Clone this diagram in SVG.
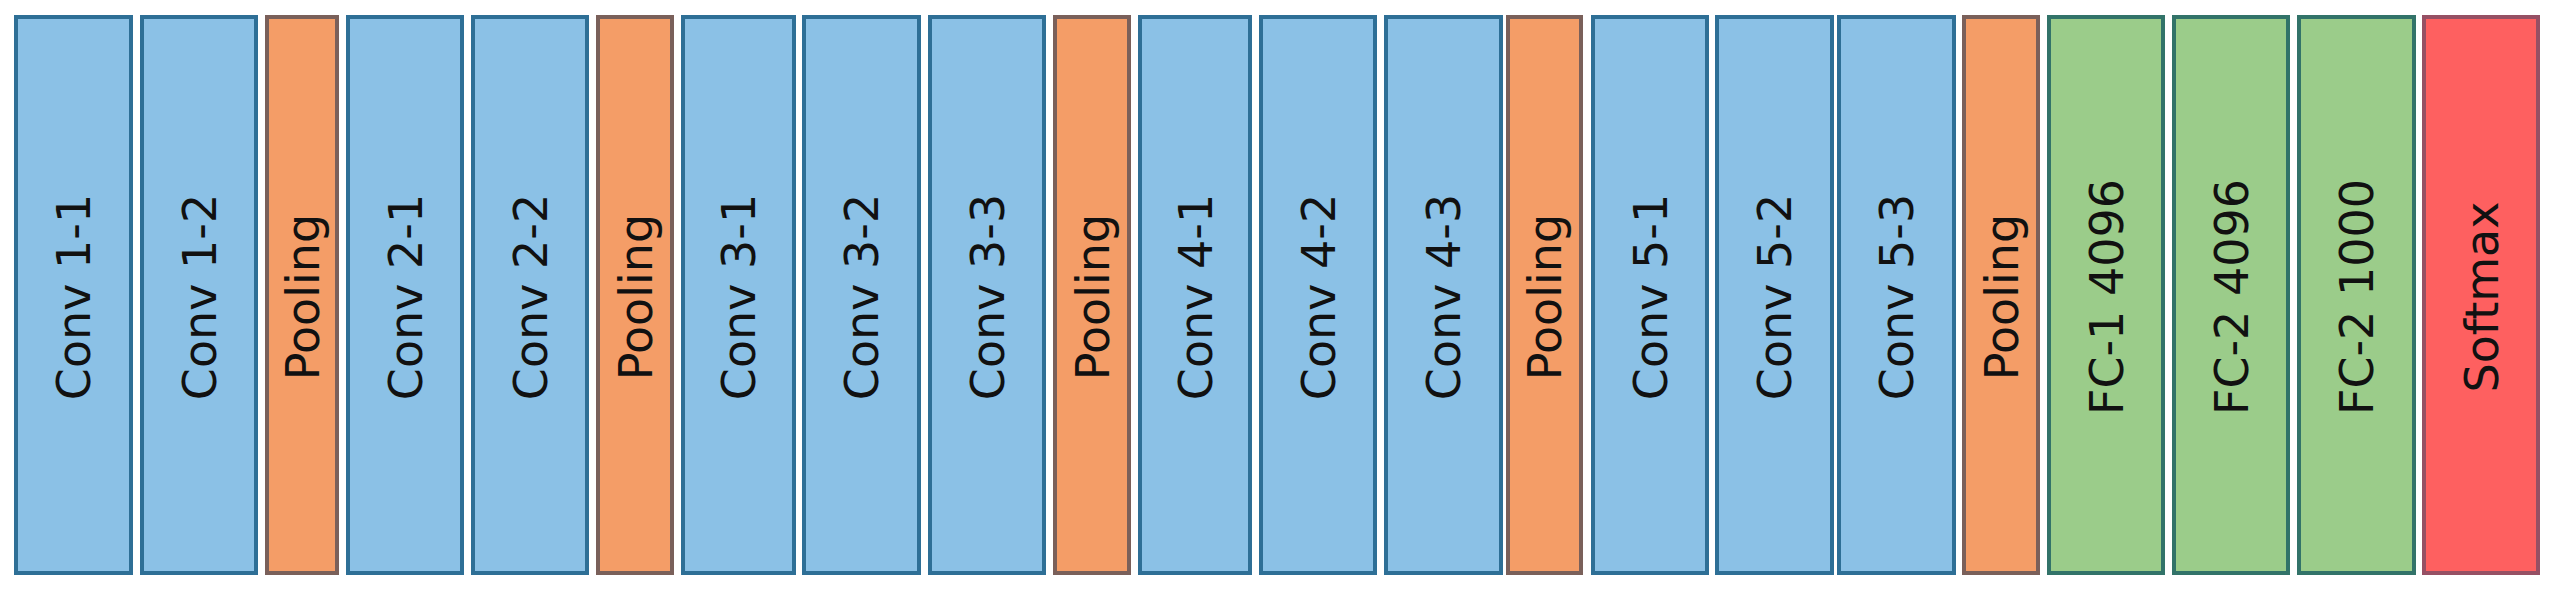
<svg xmlns="http://www.w3.org/2000/svg" width="2556" height="590" viewBox="0 0 2556 590">
<style>
rect{stroke-width:4}
.conv{fill:#8BC1E6;stroke:#2E6F96}
.pool{fill:#F49D67;stroke:#7A605A}
.fc{fill:#9BCC8A;stroke:#327369}
.soft{fill:#FE6060;stroke:#965064}
text{font-family:"DejaVu Sans","Verdana",sans-serif;font-size:46px;fill:#111;text-anchor:middle}
</style>
<rect width="2556" height="590" fill="#fff"/>
<g id="conv1-1"><rect class="conv" x="16" y="17" width="115" height="556"/><text transform="translate(73.5,297) rotate(-90)" y="16.5">Conv 1-1</text></g>
<g id="conv1-2"><rect class="conv" x="142" y="17" width="114" height="556"/><text transform="translate(199,297) rotate(-90)" y="16.5">Conv 1-2</text></g>
<g id="pool1"><rect class="pool" x="267" y="17" width="70" height="556"/><text transform="translate(302,297) rotate(-90)" y="16.5">Pooling</text></g>
<g id="conv2-1"><rect class="conv" x="348" y="17" width="114" height="556"/><text transform="translate(405,297) rotate(-90)" y="16.5">Conv 2-1</text></g>
<g id="conv2-2"><rect class="conv" x="473" y="17" width="114" height="556"/><text transform="translate(530,297) rotate(-90)" y="16.5">Conv 2-2</text></g>
<g id="pool2"><rect class="pool" x="598" y="17" width="74" height="556"/><text transform="translate(635,297) rotate(-90)" y="16.5">Pooling</text></g>
<g id="conv3-1"><rect class="conv" x="683" y="17" width="111" height="556"/><text transform="translate(738.5,297) rotate(-90)" y="16.5">Conv 3-1</text></g>
<g id="conv3-2"><rect class="conv" x="804" y="17" width="115" height="556"/><text transform="translate(861.5,297) rotate(-90)" y="16.5">Conv 3-2</text></g>
<g id="conv3-3"><rect class="conv" x="930" y="17" width="114" height="556"/><text transform="translate(987,297) rotate(-90)" y="16.5">Conv 3-3</text></g>
<g id="pool3"><rect class="pool" x="1055" y="17" width="74" height="556"/><text transform="translate(1092,297) rotate(-90)" y="16.5">Pooling</text></g>
<g id="conv4-1"><rect class="conv" x="1140" y="17" width="110" height="556"/><text transform="translate(1195,297) rotate(-90)" y="16.5">Conv 4-1</text></g>
<g id="conv4-2"><rect class="conv" x="1261" y="17" width="114" height="556"/><text transform="translate(1318,297) rotate(-90)" y="16.5">Conv 4-2</text></g>
<g id="conv4-3"><rect class="conv" x="1386" y="17" width="115" height="556"/><text transform="translate(1443.5,297) rotate(-90)" y="16.5">Conv 4-3</text></g>
<g id="pool4"><rect class="pool" x="1508" y="17" width="73" height="556"/><text transform="translate(1544.5,297) rotate(-90)" y="16.5">Pooling</text></g>
<g id="conv5-1"><rect class="conv" x="1593" y="17" width="114" height="556"/><text transform="translate(1650,297) rotate(-90)" y="16.5">Conv 5-1</text></g>
<g id="conv5-2"><rect class="conv" x="1717" y="17" width="115" height="556"/><text transform="translate(1774.5,297) rotate(-90)" y="16.5">Conv 5-2</text></g>
<g id="conv5-3"><rect class="conv" x="1839" y="17" width="115" height="556"/><text transform="translate(1896.5,297) rotate(-90)" y="16.5">Conv 5-3</text></g>
<g id="pool5"><rect class="pool" x="1964" y="17" width="74" height="556"/><text transform="translate(2001,297) rotate(-90)" y="16.5">Pooling</text></g>
<g id="fc1"><rect class="fc" x="2049" y="17" width="114" height="556"/><text transform="translate(2106,297) rotate(-90)" y="16.5">FC-1 4096</text></g>
<g id="fc2"><rect class="fc" x="2174" y="17" width="114" height="556"/><text transform="translate(2231,297) rotate(-90)" y="16.5">FC-2 4096</text></g>
<g id="fc3"><rect class="fc" x="2299" y="17" width="115" height="556"/><text transform="translate(2356.5,297) rotate(-90)" y="16.5">FC-2 1000</text></g>
<g id="softmax"><rect class="soft" x="2424" y="17" width="114" height="556"/><text transform="translate(2481,297) rotate(-90)" y="16.5">Softmax</text></g>
<g id="connectors"/>
</svg>
